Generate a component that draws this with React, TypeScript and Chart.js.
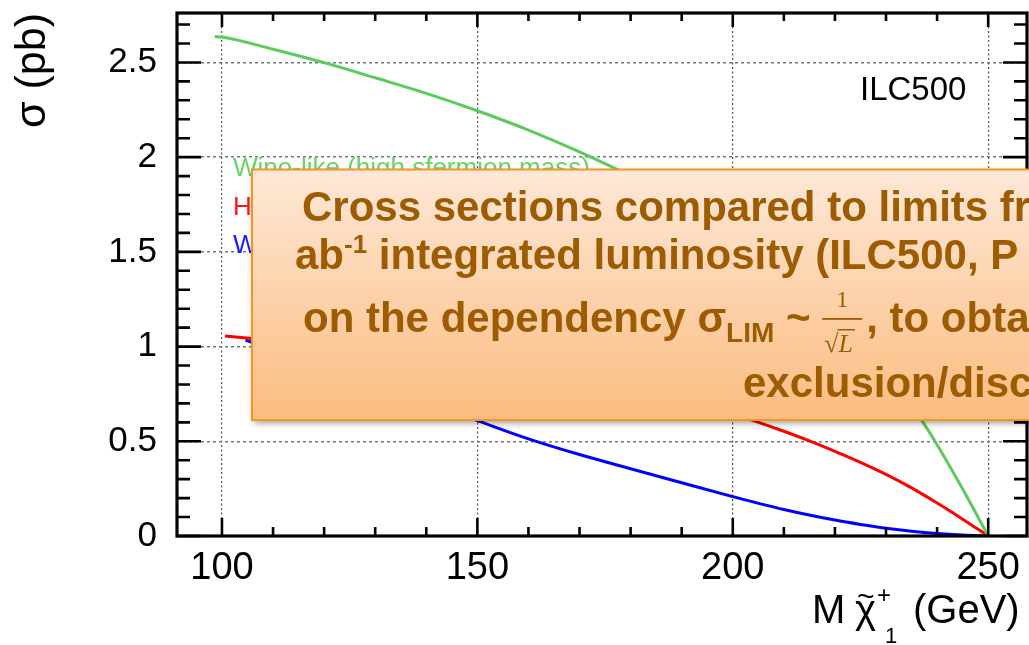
import React, { useEffect, useRef } from "react";
import { Chart, registerables } from "chart.js";

Chart.register(...registerables);

// ---- Data ----
const greenMass = [98.6, 100, 110, 120, 130, 140, 150, 160, 170, 180, 190, 200, 210, 220, 230, 235, 240, 245, 247, 249, 250];
const greenXsec = [2.637, 2.634, 2.57, 2.499, 2.419, 2.337, 2.245, 2.143, 2.028, 1.9, 1.75, 1.58, 1.38, 1.145, 0.863, 0.689, 0.482, 0.248, 0.15, 0.05, 0];

const redMass = [100.6, 110, 120, 130, 140, 150, 160, 170, 180, 190, 200, 210, 215, 220, 225, 230, 235, 240, 245, 250];
const redXsec = [1.056, 1.032, 1.007, 0.98, 0.951, 0.919, 0.882, 0.837, 0.784, 0.721, 0.645, 0.553, 0.502, 0.447, 0.389, 0.325, 0.254, 0.174, 0.089, 0];

const blueMass = [104.6, 110, 120, 130, 140, 150, 160, 170, 180, 190, 200, 210, 220, 225, 230, 235, 240, 245, 250];
const blueXsec = [1.034, 0.985, 0.895, 0.801, 0.706, 0.609, 0.513, 0.43, 0.355, 0.281, 0.208, 0.14, 0.084, 0.061, 0.041, 0.025, 0.013, 0.005, 0];

const seriesNames = ["Wino-like (high sfermion mass)", "Higgsino-like", "Wino-like (low sfermion mass)"];
const seriesColors = ["#5ccb5c", "#ff0000", "#0000ff"];
const legendColors = ["#66d466", "#ff1a1a", "#1a1aff"];

const xTickValues = [100, 150, 200, 250];
const xTickLabels = ["100", "150", "200", "250"];
const yTickValues = [0, 0.5, 1, 1.5, 2, 2.5];
const yTickLabels = ["0", "0.5", "1", "1.5", "2", "2.5"];
const xMinorTicks = [100, 110, 120, 130, 140, 150, 160, 170, 180, 190, 200, 210, 220, 230, 240, 250];
const yMinorTicks = [0, 0.1, 0.2, 0.3, 0.4, 0.5, 0.6, 0.7, 0.8, 0.9, 1, 1.1, 1.2, 1.3, 1.4, 1.5, 1.6, 1.7, 1.8, 1.9, 2, 2.1, 2.2, 2.3, 2.4, 2.5, 2.6, 2.7];

const yTitle = "σ (pb)";
const tagText = "ILC500";
const boxLine1 = "Cross sections compared to limits from";
const boxLine2a = "ab";
const boxLine2sup = "-1";
const boxLine2b = " integrated luminosity (ILC500, P";
const boxLine3a = "on the dependency σ";
const boxLine3sub = "LIM";
const boxLine3b = " ~ ";
const boxLine3c = ", to obtain";
const boxLine4 = "exclusion/discovery";

const SANS = "'Liberation Sans', Arial, Helvetica, sans-serif";
const SERIF = "'Liberation Serif', 'Times New Roman', serif";

const overlayPlugin = {
  id: "overlayPlugin",
  afterDatasetsDraw(chart: any) {
    const { ctx, chartArea: ca, scales } = chart;
    const x = scales.x;
    const y = scales.y;
    ctx.save();
    // inward ticks
    ctx.strokeStyle = "#000";
    ctx.lineWidth = 2.6;
    ctx.beginPath();
    xMinorTicks.forEach((v) => {
      const px = x.getPixelForValue(v);
      const major = xTickValues.includes(v);
      ctx.moveTo(px, ca.bottom);
      ctx.lineTo(px, ca.bottom - (major ? 18 : 9));
      ctx.moveTo(px, ca.top);
      ctx.lineTo(px, ca.top + (major ? 14 : 8));
    });
    yMinorTicks.forEach((v) => {
      const py = y.getPixelForValue(v);
      const major = yTickValues.includes(v);
      ctx.moveTo(ca.left, py);
      ctx.lineTo(ca.left + (major ? 24 : 13), py);
      ctx.moveTo(ca.right, py);
      ctx.lineTo(ca.right - (major ? 24 : 13), py);
    });
    ctx.stroke();
    // frame
    ctx.lineWidth = 3.2;
    ctx.strokeRect(ca.left, ca.top, ca.right - ca.left, ca.bottom - ca.top);

    // legend-like labels
    ctx.textAlign = "left";
    ctx.textBaseline = "alphabetic";
    ctx.font = `26px ${SANS}`;
    const lx = ca.left + 56;
    const lys = [176, 215, 253];
    seriesNames.forEach((n, i) => {
      ctx.fillStyle = legendColors[i];
      ctx.fillText(n, lx, lys[i]);
    });

    // tag
    ctx.fillStyle = "#000";
    ctx.font = `33px ${SANS}`;
    ctx.fillText(tagText, 860, 100);

    // x-axis title  M chi~_1^+ (GeV)
    ctx.font = `40px ${SANS}`;
    ctx.fillText("M", 812, 623);
    ctx.fillText("χ", 855, 623);
    ctx.font = `30px ${SANS}`;
    ctx.fillText("~", 857, 606);
    ctx.font = `24px ${SANS}`;
    ctx.fillText("+", 877, 603);
    ctx.font = `22px ${SANS}`;
    ctx.fillText("1", 885, 643);
    ctx.font = `40px ${SANS}`;
    ctx.fillText("(GeV)", 913, 623);
    ctx.restore();
  },
  afterDraw(chart: any) {
    const { ctx } = chart;
    ctx.save();
    const bx = 252, by = 169.5, bw = 820, bh = 250.5;
    const grad = ctx.createLinearGradient(0, by, 0, by + bh);
    grad.addColorStop(0, "#fee8d8");
    grad.addColorStop(0.5, "#fdd2ab");
    grad.addColorStop(1, "#fbbd80");
    ctx.shadowColor = "rgba(0,0,0,0.45)";
    ctx.shadowBlur = 7;
    ctx.shadowOffsetX = 2;
    ctx.shadowOffsetY = 3;
    ctx.fillStyle = grad;
    ctx.fillRect(bx, by, bw, bh);
    ctx.shadowColor = "transparent";
    ctx.strokeStyle = "#f7941e";
    ctx.lineWidth = 2;
    ctx.strokeRect(bx, by, bw, bh);

    const col = "#9d5b02";
    ctx.fillStyle = col;
    ctx.strokeStyle = col;
    ctx.textAlign = "left";
    ctx.textBaseline = "alphabetic";
    const bold = `bold 42px ${SANS}`;

    // line 1
    ctx.font = bold;
    ctx.fillText(boxLine1, 302, 221);

    // line 2
    let cx = 295;
    ctx.font = bold;
    ctx.fillText(boxLine2a, cx, 269);
    cx += ctx.measureText(boxLine2a).width;
    ctx.font = `bold 26px ${SANS}`;
    ctx.fillText(boxLine2sup, cx, 253);
    cx += ctx.measureText(boxLine2sup).width;
    ctx.font = bold;
    ctx.fillText(boxLine2b, cx, 269);

    // line 3
    cx = 303;
    const b3 = 332;
    ctx.font = bold;
    ctx.fillText(boxLine3a, cx, b3);
    cx += ctx.measureText(boxLine3a).width;
    ctx.font = `bold 28px ${SANS}`;
    ctx.fillText(boxLine3sub, cx, b3 + 10);
    cx += ctx.measureText(boxLine3sub).width;
    ctx.font = bold;
    ctx.fillText(boxLine3b, cx, b3);
    cx += ctx.measureText(boxLine3b).width;
    const fw = 40;
    ctx.textAlign = "center";
    ctx.font = `24px ${SERIF}`;
    ctx.fillText("1", cx + fw / 2, 307);
    ctx.fillRect(cx, 318, fw, 1.8);
    ctx.textAlign = "left";
    ctx.font = `26px ${SERIF}`;
    ctx.fillText("√", cx + 2, 352);
    const rw = ctx.measureText("√").width;
    ctx.font = `italic 26px ${SERIF}`;
    ctx.fillText("L", cx + 2 + rw, 352);
    const lw = ctx.measureText("L").width;
    ctx.fillRect(cx + 2 + rw - 1, 329, lw + 3, 1.5);
    cx += fw + 4;
    ctx.font = bold;
    ctx.fillText(boxLine3c, cx, b3);

    // line 4
    ctx.font = bold;
    ctx.fillText(boxLine4, 743, 397);
    ctx.restore();
  },
};

export default function App() {
  const ref = useRef<HTMLCanvasElement | null>(null);
  useEffect(() => {
    document.body.style.margin = "0";
    const canvas = ref.current;
    if (!canvas) return;
    const mk = (xs: number[], ys: number[]) => xs.map((m, i) => ({ x: m, y: ys[i] }));
    const chart = new Chart(canvas, {
      type: "line",
      data: {
        datasets: [
          { label: seriesNames[0], data: mk(greenMass, greenXsec), borderColor: seriesColors[0], borderWidth: 3, pointRadius: 0, fill: false, cubicInterpolationMode: "monotone" },
          { label: seriesNames[1], data: mk(redMass, redXsec), borderColor: seriesColors[1], borderWidth: 3, pointRadius: 0, fill: false, cubicInterpolationMode: "monotone" },
          { label: seriesNames[2], data: mk(blueMass, blueXsec), borderColor: seriesColors[2], borderWidth: 3, pointRadius: 0, fill: false, cubicInterpolationMode: "monotone" },
        ],
      } as any,
      options: {
        responsive: false,
        animation: false,
        devicePixelRatio: 1,
        events: [],
        layout: { padding: { left: 0, top: 13, right: 2, bottom: 0 } },
        plugins: { legend: { display: false }, tooltip: { enabled: false }, title: { display: false } },
        scales: {
          x: {
            type: "linear",
            min: 91.2,
            max: 257.6,
            afterBuildTicks: (s: any) => {
              s.ticks = xTickValues.map((v) => ({ value: v }));
            },
            afterFit: (s: any) => {
              s.height = 109;
              s.paddingLeft = 0;
              s.paddingRight = 0;
              s.paddingTop = 0;
              s.paddingBottom = 0;
            },
            grid: { color: "#555", lineWidth: 1.2, drawTicks: false },
            border: { display: false, dash: [2, 2.5] },
            ticks: {
              color: "#000",
              font: { family: SANS, size: 38 },
              padding: 10,
              maxRotation: 0,
              autoSkip: false,
              callback: (v: any) => xTickLabels[xTickValues.indexOf(Number(v))] ?? "",
            },
          },
          y: {
            type: "linear",
            min: 0,
            max: 2.761,
            afterBuildTicks: (s: any) => {
              s.ticks = yTickValues.map((v) => ({ value: v }));
            },
            afterFit: (s: any) => {
              s.width = 177;
              s.paddingLeft = 0;
              s.paddingRight = 0;
              s.paddingTop = 0;
              s.paddingBottom = 0;
            },
            grid: { color: "#777", lineWidth: 1.5, drawTicks: false },
            border: { display: false, dash: [3, 3] },
            title: { display: true, text: yTitle, align: "end", color: "#000", font: { family: SANS, size: 43 }, padding: { top: 7, bottom: 0 } },
            ticks: {
              color: "#000",
              font: { family: SANS, size: 35 },
              padding: 20,
              autoSkip: false,
              callback: (v: any) => yTickLabels[yTickValues.indexOf(Number(v))] ?? "",
            },
          },
        },
      } as any,
      plugins: [overlayPlugin],
    });
    return () => chart.destroy();
  }, []);
  return (
    <div style={{ position: "fixed", left: 0, top: 0, width: 1029, height: 645, overflow: "hidden", background: "#fff" }}>
      <canvas ref={ref} width={1029} height={645} style={{ display: "block", width: 1029, height: 645 }} />
    </div>
  );
}
